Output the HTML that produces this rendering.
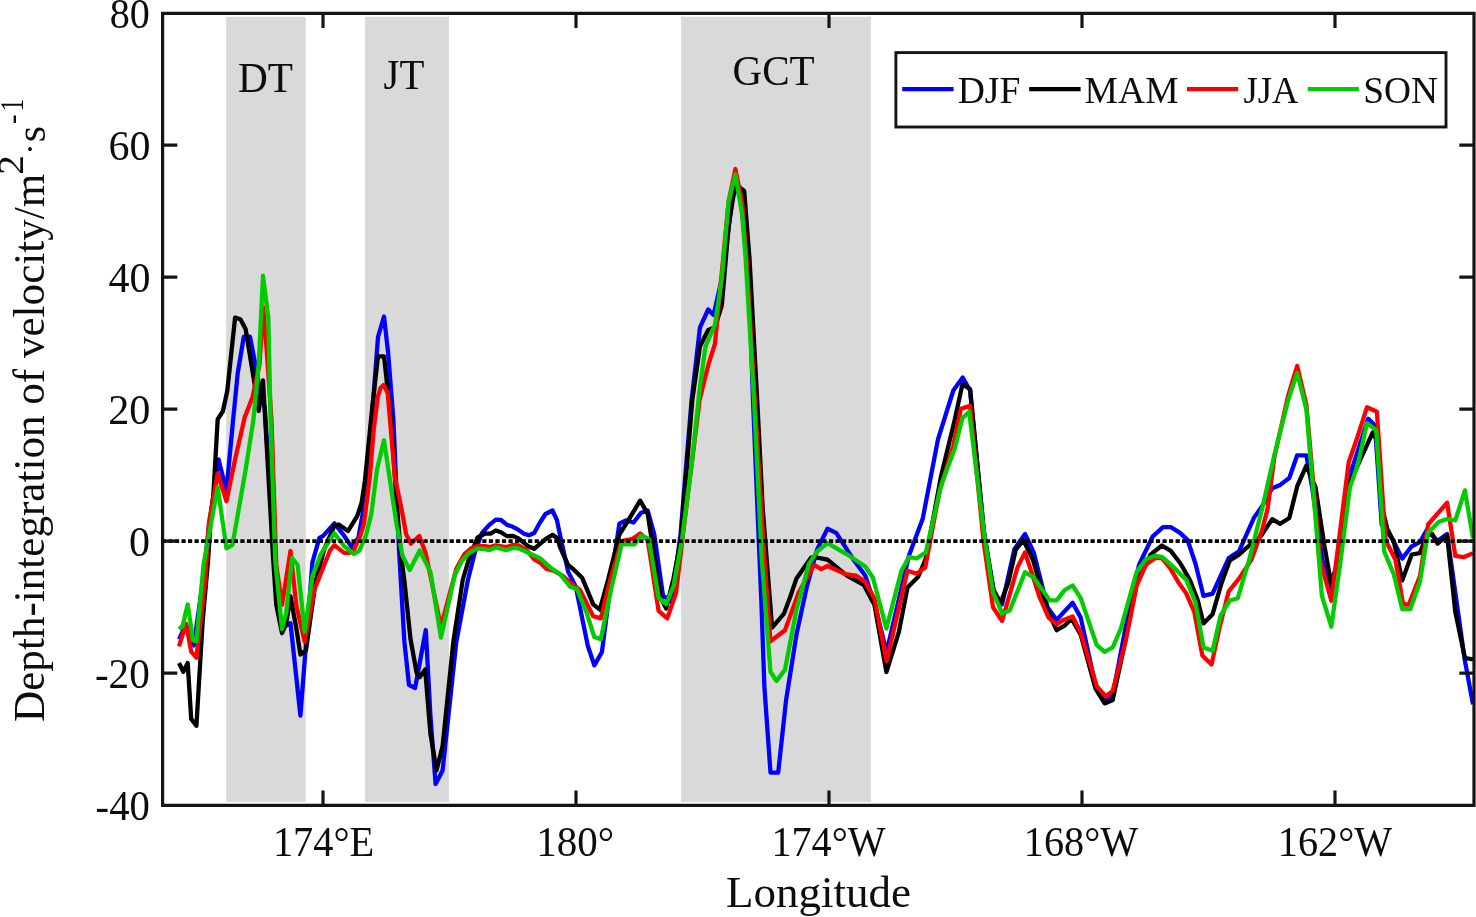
<!DOCTYPE html>
<html><head><meta charset="utf-8"><style>
html,body{margin:0;padding:0;background:#fff;width:1476px;height:917px;overflow:hidden}
svg{display:block;will-change:transform}
text{font-family:"Liberation Serif",serif;fill:#0d0d0d}
</style></head><body>
<svg width="1476" height="917" viewBox="0 0 1476 917">
<defs><clipPath id="pa"><rect x="163" y="13.3" width="1310.8" height="791.9"/></clipPath></defs>
<rect x="226.2" y="16.8" width="79.5" height="785.2" fill="#d9d9d9"/>
<rect x="365" y="16.8" width="83.9" height="785.2" fill="#d9d9d9"/>
<rect x="681.1" y="16.8" width="189.8" height="785.2" fill="#d9d9d9"/>
<g fill="none" stroke-width="4.3" stroke-linejoin="round" clip-path="url(#pa)">
<path stroke="#0000ff" d="M179.0,639.4 L186.0,624.5 L193.8,645.5 L203.0,580.0 L208.5,530.0 L218.5,459.3 L226.4,490.7 L232.5,426.2 L237.7,373.4 L243.8,336.7 L250.0,336.7 L256.0,368.1 L260.4,392.6 L264.8,408.3 L277.7,607.7 L282.0,627.5 L290.5,623.3 L300.4,715.5 L312.4,562.3 L319.4,537.9 L322.9,536.1 L334.4,523.4 L343.1,534.3 L351.8,547.4 L358.4,537.6 L362.7,513.6 L372.2,413.7 L378.0,337.0 L384.0,316.5 L388.1,352.4 L393.4,420.0 L399.0,549.3 L404.4,642.0 L409.0,684.9 L415.1,688.0 L425.8,630.0 L430.4,715.4 L435.6,784.1 L442.6,770.4 L456.3,642.0 L467.9,580.0 L474.9,552.3 L481.9,533.1 L488.8,525.3 L495.8,519.6 L501.0,520.0 L507.1,524.9 L511.5,526.2 L516.7,528.8 L523.7,533.6 L529.0,535.3 L534.2,533.1 L539.4,523.5 L545.5,514.0 L552.5,510.5 L556.9,520.0 L560.0,534.9 L568.1,571.6 L575.8,586.8 L587.8,645.7 L594.3,665.3 L601.9,652.2 L612.8,567.2 L619.4,523.6 L625.9,520.3 L633.5,522.5 L641.2,512.7 L647.7,510.5 L654.3,534.5 L663.0,595.5 L671.7,602.1 L680.5,534.5 L691.6,400.0 L700.0,327.3 L708.2,309.5 L713.6,315.0 L723.2,272.7 L731.4,204.5 L735.4,185.5 L740.9,199.0 L749.1,286.4 L753.0,400.0 L757.5,510.0 L761.3,600.0 L764.4,687.0 L770.5,772.6 L778.2,772.6 L786.1,700.0 L796.5,634.4 L806.8,586.7 L817.2,549.4 L827.5,528.7 L836.2,532.9 L853.0,558.9 L865.2,575.6 L874.4,603.1 L886.6,652.0 L909.0,555.4 L922.7,518.8 L938.0,439.4 L953.3,390.5 L962.7,377.6 L970.1,390.5 L983.8,531.0 L994.5,595.1 L1002.1,604.3 L1014.4,549.3 L1025.0,534.0 L1033.7,552.3 L1047.5,607.3 L1056.6,619.9 L1072.6,602.7 L1080.7,617.6 L1095.5,685.1 L1107.0,700.0 L1112.7,695.4 L1125.3,629.0 L1139.0,564.9 L1152.8,536.3 L1163.0,527.2 L1171.1,527.2 L1180.0,532.9 L1187.5,539.8 L1195.5,563.8 L1203.5,595.9 L1212.6,593.6 L1228.7,558.1 L1239.0,551.3 L1253.8,518.1 L1261.9,506.6 L1272.2,488.3 L1280.2,484.9 L1289.3,478.0 L1297.2,455.3 L1306.4,455.3 L1312.1,487.3 L1322.4,560.0 L1330.0,589.9 L1338.1,560.0 L1346.3,486.3 L1368.2,418.7 L1375.0,425.5 L1381.7,524.5 L1392.6,539.5 L1402.2,558.6 L1411.7,546.3 L1419.9,542.2 L1426.7,530.0 L1437.6,540.8 L1447.1,534.0 L1458.0,611.7 L1464.9,660.7 L1473.0,704.3"/>
<path stroke="#000000" d="M179.0,663.0 L183.3,671.7 L187.7,663.0 L191.2,718.9 L196.4,725.8 L199.9,667.3 L202.6,621.8 L208.1,560.0 L211.0,514.0 L213.3,496.0 L217.7,419.2 L222.9,411.3 L227.3,390.8 L235.1,317.6 L240.4,319.3 L245.6,328.9 L254.3,382.1 L258.7,410.9 L263.0,380.4 L273.2,560.0 L276.3,604.8 L282.0,633.2 L286.2,623.3 L290.5,596.3 L296.2,627.5 L300.4,654.5 L306.0,650.2 L315.9,579.7 L324.6,548.3 L334.4,525.6 L338.7,524.5 L348.0,531.1 L357.3,515.8 L361.6,502.7 L364.9,480.9 L372.2,407.9 L378.0,356.3 L384.0,356.3 L391.3,422.6 L397.2,511.0 L401.6,560.0 L404.4,581.0 L410.5,639.0 L416.6,672.7 L419.7,677.3 L425.2,669.6 L430.4,733.7 L436.5,770.4 L442.6,746.0 L453.3,642.0 L462.7,580.0 L468.8,559.3 L477.5,537.5 L485.3,533.6 L490.6,533.6 L495.8,530.5 L501.0,532.3 L507.1,536.2 L512.4,535.8 L518.5,538.4 L523.7,542.7 L528.1,546.2 L534.2,548.8 L540.3,543.6 L545.5,539.2 L552.5,534.9 L557.7,538.4 L560.0,547.1 L568.1,565.0 L573.6,569.4 L582.3,578.1 L593.2,604.3 L599.8,609.7 L608.5,578.1 L619.4,534.5 L630.3,517.0 L640.1,500.7 L647.7,513.8 L655.3,562.8 L660.8,597.7 L666.2,608.6 L673.5,578.5 L680.9,539.6 L687.4,460.0 L692.3,400.0 L700.0,346.3 L708.2,330.0 L715.0,327.3 L721.8,305.4 L728.6,226.4 L735.2,184.0 L744.2,191.0 L749.6,260.0 L757.2,400.0 L762.8,510.0 L772.1,627.6 L784.0,613.6 L790.2,597.0 L796.5,578.4 L811.0,557.7 L817.2,557.7 L827.5,559.7 L846.9,575.6 L863.7,584.8 L874.4,604.7 L886.4,672.0 L898.8,632.1 L907.5,587.5 L918.2,576.8 L925.8,558.5 L941.1,476.0 L954.8,419.5 L962.4,384.4 L970.1,389.0 L983.8,531.0 L993.0,589.0 L1000.6,602.7 L1008.2,582.9 L1015.9,549.3 L1023.5,540.2 L1033.0,560.0 L1047.5,610.7 L1056.6,630.2 L1064.6,625.6 L1071.5,618.7 L1080.7,634.7 L1095.5,688.5 L1104.7,703.4 L1112.7,700.0 L1123.0,651.9 L1136.7,583.2 L1150.5,554.6 L1161.9,545.5 L1171.1,551.2 L1180.6,563.8 L1189.8,579.9 L1197.8,600.5 L1203.5,623.4 L1212.6,614.2 L1221.8,582.2 L1229.8,560.4 L1239.0,554.7 L1249.3,545.5 L1260.7,536.4 L1272.2,519.2 L1280.2,523.8 L1289.3,518.0 L1297.3,486.0 L1306.4,465.6 L1315.5,487.3 L1324.5,546.3 L1331.3,584.4 L1338.1,560.0 L1345.0,497.2 L1349.9,482.8 L1360.2,459.9 L1372.8,432.4 L1377.3,441.6 L1381.7,505.4 L1387.2,528.6 L1394.0,542.2 L1402.2,580.4 L1411.7,554.5 L1419.9,553.1 L1426.7,535.4 L1432.2,534.0 L1437.6,543.6 L1447.1,535.4 L1455.3,611.7 L1464.9,658.0 L1473.0,659.4"/>
<path stroke="#ff0000" d="M179.0,646.4 L186.0,623.7 L191.2,651.6 L196.4,657.7 L205.2,580.0 L209.0,522.1 L217.7,473.3 L226.4,501.2 L235.1,459.3 L244.7,417.4 L252.6,397.0 L259.5,364.5 L263.0,307.1 L266.5,347.2 L271.5,420.0 L276.3,565.0 L282.0,604.8 L290.5,551.0 L296.2,604.8 L304.7,641.7 L314.2,590.1 L330.0,550.5 L334.4,545.2 L344.2,552.9 L349.6,552.9 L354.0,549.6 L360.5,535.4 L364.0,523.7 L369.7,478.0 L373.8,429.0 L377.9,396.3 L380.5,388.0 L383.6,385.1 L387.7,393.0 L395.0,478.0 L401.3,507.8 L406.1,534.1 L410.9,543.7 L419.3,536.0 L425.8,553.6 L441.0,626.9 L456.3,568.9 L464.4,554.1 L471.4,548.0 L478.4,545.8 L485.3,546.2 L489.7,547.1 L495.8,545.3 L506.3,547.1 L513.3,544.9 L518.5,545.3 L527.2,550.6 L534.2,559.3 L540.3,562.8 L546.4,568.9 L553.4,570.6 L562.7,575.9 L572.5,584.6 L580.1,590.1 L593.2,616.2 L600.8,618.4 L610.7,578.1 L621.6,541.0 L632.5,538.9 L640.1,533.4 L647.7,540.0 L658.6,610.8 L667.3,618.4 L676.0,593.4 L684.3,523.6 L699.6,400.0 L708.2,365.4 L715.0,343.6 L721.8,272.7 L728.6,201.8 L735.4,169.0 L742.3,204.5 L746.6,260.0 L754.8,400.0 L764.5,560.0 L770.5,641.3 L785.0,630.2 L798.5,592.9 L814.1,564.9 L821.3,569.1 L827.5,566.0 L845.3,574.1 L856.0,575.6 L865.2,581.8 L874.4,598.5 L886.6,661.1 L907.5,570.7 L916.6,573.7 L925.2,567.6 L939.5,491.3 L953.3,445.5 L960.9,408.9 L970.1,405.8 L983.8,543.2 L993.0,607.3 L1002.1,621.0 L1017.4,567.6 L1025.0,552.4 L1033.7,578.7 L1039.5,597.0 L1048.6,617.6 L1056.6,624.4 L1063.5,619.9 L1072.6,616.4 L1080.7,632.5 L1096.7,686.2 L1105.8,696.5 L1112.7,690.8 L1125.3,642.8 L1136.7,585.5 L1145.9,564.9 L1155.0,558.1 L1161.9,558.1 L1170.3,568.4 L1178.3,582.2 L1186.3,593.6 L1194.3,611.9 L1202.3,655.4 L1211.5,664.6 L1219.5,627.9 L1228.7,591.3 L1239.0,578.7 L1251.6,559.3 L1261.9,530.7 L1267.6,508.9 L1274.3,457.6 L1288.1,395.8 L1297.2,366.0 L1306.4,404.9 L1320.1,560.0 L1331.3,600.8 L1340.9,524.5 L1348.7,462.2 L1356.7,439.3 L1367.0,407.2 L1376.9,411.8 L1385.5,540.0 L1395.4,559.9 L1403.2,604.5 L1408.8,604.5 L1419.9,576.3 L1428.1,524.5 L1447.1,502.7 L1455.3,555.8 L1463.5,557.2 L1473.0,553.1"/>
<path stroke="#00cc00" d="M179.0,628.9 L182.5,626.3 L187.7,604.5 L193.0,640.3 L196.4,641.1 L203.5,565.0 L217.7,487.2 L226.4,548.3 L232.5,544.8 L245.6,469.8 L253.4,420.0 L258.7,364.7 L263.0,275.7 L268.3,317.6 L270.6,420.0 L275.2,560.0 L282.0,629.0 L286.2,613.3 L292.0,558.0 L297.6,565.0 L304.7,631.8 L312.4,576.2 L321.1,553.6 L334.4,533.2 L344.2,546.3 L354.0,554.0 L359.4,550.7 L366.0,535.4 L371.4,513.6 L376.9,470.0 L384.0,440.3 L396.6,524.6 L402.5,555.7 L409.7,570.0 L419.7,550.5 L430.4,571.9 L441.0,637.6 L454.8,575.0 L461.8,561.0 L468.8,553.2 L477.5,548.4 L485.3,549.3 L489.7,550.1 L495.8,547.5 L506.3,550.1 L513.3,548.0 L518.5,548.4 L527.2,552.3 L540.3,558.4 L549.9,567.2 L560.0,574.1 L570.3,586.8 L576.9,589.0 L586.7,613.0 L594.3,637.0 L600.8,639.1 L610.7,591.2 L621.6,544.3 L634.6,544.3 L641.2,535.6 L648.8,538.9 L658.6,597.7 L666.2,604.3 L673.5,586.0 L682.0,540.0 L692.2,460.0 L699.5,390.0 L705.5,346.3 L715.0,324.5 L721.8,278.2 L728.6,201.8 L735.4,174.5 L742.3,215.5 L745.7,260.0 L754.0,400.0 L761.8,560.0 L770.5,671.8 L776.6,681.0 L785.0,669.6 L796.5,609.5 L808.9,563.9 L817.2,551.5 L827.5,543.2 L846.9,554.3 L865.2,566.5 L872.8,577.2 L886.4,628.5 L901.4,570.7 L909.0,557.0 L916.6,558.5 L925.8,552.4 L941.1,485.2 L954.8,448.5 L962.4,418.0 L969.2,411.9 L983.8,531.0 L993.0,592.0 L1002.1,613.4 L1009.8,610.4 L1025.0,572.2 L1033.7,577.5 L1049.8,600.4 L1056.6,600.4 L1064.6,590.1 L1072.6,585.5 L1080.7,598.1 L1096.7,645.0 L1104.7,651.9 L1112.7,647.3 L1120.7,629.0 L1136.7,571.8 L1145.9,559.2 L1155.0,555.8 L1161.9,556.9 L1171.1,564.9 L1186.3,579.9 L1195.5,602.8 L1203.5,647.4 L1212.6,650.8 L1220.7,615.3 L1229.8,600.5 L1237.8,598.2 L1249.3,559.3 L1262.9,505.6 L1274.3,455.3 L1288.1,400.4 L1297.2,372.9 L1306.4,409.5 L1319.0,560.0 L1321.8,595.3 L1331.3,626.7 L1340.7,560.0 L1349.9,487.3 L1357.9,464.4 L1367.0,423.2 L1376.2,430.1 L1384.2,551.4 L1394.0,574.9 L1402.2,609.0 L1410.4,609.0 L1419.9,581.7 L1428.1,532.7 L1439.0,521.8 L1447.1,519.0 L1455.3,520.4 L1464.9,490.4 L1473.0,538.1"/>
</g>
<line x1="163" y1="541.1" x2="1474" y2="541.1" stroke="#000" stroke-width="3.6" stroke-dasharray="4.2 2.34" stroke-dashoffset="1.14"/>
<g fill="none" stroke="#141414" stroke-width="3.2">
<path d="M162.6,13.3 H1474 V805.3 H162.6 Z"/>
<path d="M323,805.3 v-14.7 M576,805.3 v-14.7 M829,805.3 v-14.7 M1082,805.3 v-14.7 M1335,805.3 v-14.7"/>
<path d="M323,13.3 v14.7 M576,13.3 v14.7 M829,13.3 v14.7 M1082,13.3 v14.7 M1335,13.3 v14.7"/>
<path d="M162.6,145.1 h14.7 M162.6,277.1 h14.7 M162.6,409.1 h14.7 M162.6,541.1 h14.7 M162.6,673.1 h14.7"/>
<path d="M1474,145.1 h-14.7 M1474,277.1 h-14.7 M1474,409.1 h-14.7 M1474,541.1 h-14.7 M1474,673.1 h-14.7"/>
</g>
<text transform="translate(44.40,721.90) rotate(-90) scale(0.9797,1)" font-size="44">Depth-integration of velocity/m</text>
<text transform="translate(22.85,174.85) rotate(-90) scale(1.1200,1)" font-size="35">2</text>
<text transform="translate(40.85,154.80) rotate(-90) scale(1.0000,1)" font-size="34">·</text>
<text transform="translate(44.85,142.25) rotate(-90) scale(1.0000,1)" font-size="42">s</text>
<text transform="translate(22.30,124.00) rotate(-90) scale(0.9000,1)" font-size="32">-</text>
<text transform="translate(22.55,111.45) rotate(-90) scale(0.7500,1)" font-size="34">1</text>
<rect x="895.9" y="52.6" width="550.1" height="74.4" fill="#fff" stroke="#141414" stroke-width="2.9"/>
<g stroke-width="4.2" fill="none">
<path d="M902.2,89.05 H953.6" stroke="#0000ff"/>
<path d="M1029.2,89.05 H1080.6" stroke="#000"/>
<path d="M1187,89.05 H1238.2" stroke="#ff0000"/>
<path d="M1307.7,89.05 H1358.9" stroke="#00cc00"/>
</g>
<text transform="translate(265.40,92.00) scale(0.9815,1)" font-size="42" text-anchor="middle">DT</text>
<text transform="translate(403.90,88.50) scale(0.9708,1)" font-size="42" text-anchor="middle">JT</text>
<text transform="translate(773.60,85.00) scale(0.9780,1)" font-size="42" text-anchor="middle">GCT</text>
<text transform="translate(149.80,28.00) scale(0.9540,1)" font-size="42" text-anchor="end">80</text>
<text transform="translate(150.50,160.00) scale(1.0000,1)" font-size="42" text-anchor="end">60</text>
<text transform="translate(150.50,292.00) scale(1.0000,1)" font-size="42" text-anchor="end">40</text>
<text transform="translate(150.40,424.00) scale(1.0052,1)" font-size="42" text-anchor="end">20</text>
<text transform="translate(150.10,556.00) scale(1.0000,1)" font-size="42" text-anchor="end">0</text>
<text transform="translate(149.80,688.00) scale(0.9812,1)" font-size="42" text-anchor="end">-20</text>
<text transform="translate(149.90,820.00) scale(0.9698,1)" font-size="42" text-anchor="end">-40</text>
<text transform="translate(323.60,856.00) scale(0.9611,1)" font-size="42" text-anchor="middle">174°E</text>
<text transform="translate(575.10,856.00) scale(0.9753,1)" font-size="42" text-anchor="middle">180°</text>
<text transform="translate(828.50,856.00) scale(0.9564,1)" font-size="42" text-anchor="middle">174°W</text>
<text transform="translate(1081.00,856.00) scale(0.9570,1)" font-size="42" text-anchor="middle">168°W</text>
<text transform="translate(1335.00,856.00) scale(0.9570,1)" font-size="42" text-anchor="middle">162°W</text>
<text transform="translate(818.50,907.00) scale(1.0232,1)" font-size="44" text-anchor="middle">Longitude</text>
<text transform="translate(989.00,102.70) scale(0.9902,1)" font-size="38" text-anchor="middle">DJF</text>
<text transform="translate(1131.60,102.70) scale(0.9893,1)" font-size="38" text-anchor="middle">MAM</text>
<text transform="translate(1271.00,102.70) scale(0.9644,1)" font-size="38" text-anchor="middle">JJA</text>
<text transform="translate(1400.60,102.70) scale(0.9835,1)" font-size="38" text-anchor="middle">SON</text>
</svg>
</body></html>
